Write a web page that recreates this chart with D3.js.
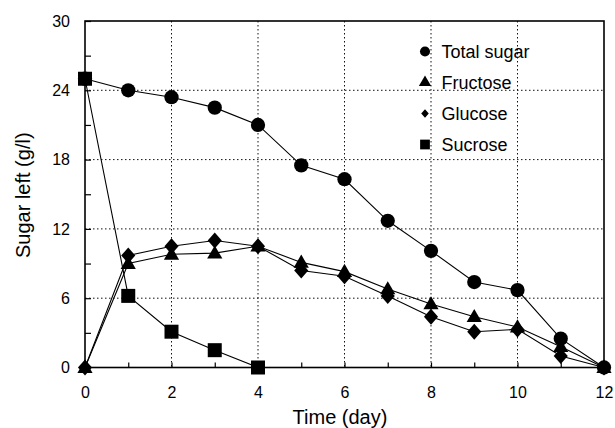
<!DOCTYPE html>
<html>
<head>
<meta charset="utf-8">
<script src="https://cdn.jsdelivr.net/npm/d3@7/dist/d3.min.js"></script>
<style>
  html, body { margin: 0; padding: 0; background: #fff; }
  svg { display: block; font-family: "Liberation Sans", Arial, sans-serif; }
</style>
</head>
<body>
<svg id="chart" width="615" height="428"></svg>
<script>
// Sugar concentrations (g/l) over the fermentation time course
const days       = [0, 1, 2, 3, 4, 5, 6, 7, 8, 9, 10, 11, 12];
const totalSugar = [25, 24.0, 23.4, 22.5, 21.0, 17.5, 16.3, 12.7, 10.1, 7.4, 6.7, 2.5, 0];
const fructose   = [0, 9.0, 9.8, 9.9, 10.5, 9.1, 8.3, 6.8, 5.5, 4.4, 3.5, 1.8, 0];
const glucose    = [0, 9.7, 10.5, 11.0, 10.5, 8.4, 7.9, 6.2, 4.4, 3.1, 3.3, 1.0, 0];
const sucroseDays = [0, 1, 2, 3, 4];
const sucrose    = [25, 6.2, 3.1, 1.5, 0];

const seriesNames = ["Total sugar", "Fructose", "Glucose", "Sucrose"];
const xTickValues = [0, 2, 4, 6, 8, 10, 12];
const yTickValues = [0, 6, 12, 18, 24, 30];
const xLabel = "Time (day)";
const yLabel = "Sugar left (g/l)";

const svg = d3.select("#chart");
const plotLeft = 85, plotRight = 604, plotTop = 21, plotBottom = 367.5;

const x = d3.scaleLinear().domain([0, 12]).range([plotLeft, plotRight]);
const y = d3.scaleLinear().domain([0, 30]).range([plotBottom, plotTop]);

// dotted grid
const grid = svg.append("g").attr("stroke", "#111").attr("stroke-width", 1)
  .attr("stroke-dasharray", "1.5,2.5");
[2, 4, 6, 8, 10].forEach(v => grid.append("line")
  .attr("x1", x(v)).attr("x2", x(v)).attr("y1", plotTop).attr("y2", plotBottom));
[6, 12, 18, 24].forEach(v => grid.append("line")
  .attr("x1", plotLeft).attr("x2", plotRight).attr("y1", y(v)).attr("y2", y(v)));

// axes with inward ticks
const xAxis = d3.axisBottom(x).tickValues(d3.range(0, 13)).tickSizeInner(-5).tickSizeOuter(0)
  .tickFormat(d => xTickValues.includes(d) ? d : "");
const gx = svg.append("g").attr("transform", `translate(0,${plotBottom})`).call(xAxis);
gx.select(".domain").remove();
gx.selectAll(".tick line").attr("stroke", "#000").attr("stroke-width", 1.2);
gx.selectAll(".tick text").attr("y", 19).attr("font-size", 16).attr("fill", "#000")
  .attr("font-family", "Liberation Sans, Arial, sans-serif");

const yAxis = d3.axisLeft(y).tickValues(d3.range(0, 31, 3)).tickSizeInner(-6).tickSizeOuter(0)
  .tickFormat(d => yTickValues.includes(d) ? d : "");
const gy = svg.append("g").attr("transform", `translate(${plotLeft},0)`).call(yAxis);
gy.select(".domain").remove();
gy.selectAll(".tick line").attr("stroke", "#000").attr("stroke-width", 1.2);
gy.selectAll(".tick text").attr("x", -15).attr("font-size", 16).attr("fill", "#000")
  .attr("font-family", "Liberation Sans, Arial, sans-serif");

// frame
svg.append("rect").attr("x", plotLeft).attr("y", plotTop)
  .attr("width", plotRight - plotLeft).attr("height", plotBottom - plotTop)
  .attr("fill", "none").attr("stroke", "#000").attr("stroke-width", 1.6);

// axis titles
svg.append("text").attr("x", 340).attr("y", 424)
  .attr("text-anchor", "middle").attr("font-size", 20).text(xLabel);
svg.append("text").attr("transform", `translate(30,${(plotTop + plotBottom) / 2 + 1}) rotate(-90)`)
  .attr("text-anchor", "middle").attr("font-size", 20).text(yLabel);

// a diamond that is nearly as wide as it is tall
const wideDiamond = {
  draw(ctx, size) {
    const h = Math.sqrt(size) * 0.58, w = h * 0.88;
    ctx.moveTo(0, -h); ctx.lineTo(w, 0); ctx.lineTo(0, h); ctx.lineTo(-w, 0); ctx.closePath();
  }
};

// marker shapes
const shapes = [d3.symbolCircle, d3.symbolTriangle, wideDiamond, d3.symbolSquare];
const sizes = [160, 100, 190, 196];
const legendSizes = [80, 65, 55, 95];

const line = (xs, ys) => d3.line().x((d, i) => x(xs[i])).y(d => y(d))(ys);

const series = [
  { xs: days, ys: totalSugar },
  { xs: days, ys: fructose },
  { xs: days, ys: glucose },
  { xs: sucroseDays, ys: sucrose }
];

series.forEach(s => {
  svg.append("path").attr("d", line(s.xs, s.ys))
    .attr("fill", "none").attr("stroke", "#000").attr("stroke-width", 1.1);
});
series.forEach((s, k) => {
  const sym = d3.symbol().type(shapes[k]).size(sizes[k]);
  svg.append("g").selectAll("path").data(s.ys).join("path")
    .attr("d", sym)
    .attr("transform", (d, i) => {
      const ty = shapes[k] === d3.symbolTriangle ? 1 : 0;
      return `translate(${x(s.xs[i])},${y(d) + ty})`;
    })
    .attr("fill", "#000");
});

// legend
const lg = svg.append("g");
seriesNames.forEach((name, k) => {
  const ly = 51.5 + k * 31;
  lg.append("path").attr("d", d3.symbol().type(shapes[k]).size(legendSizes[k])())
    .attr("transform", `translate(425,${ly})`).attr("fill", "#000");
  lg.append("text").attr("x", 441.5).attr("y", ly + 6.5).attr("font-size", 18).text(name);
});
</script>
</body>
</html>
